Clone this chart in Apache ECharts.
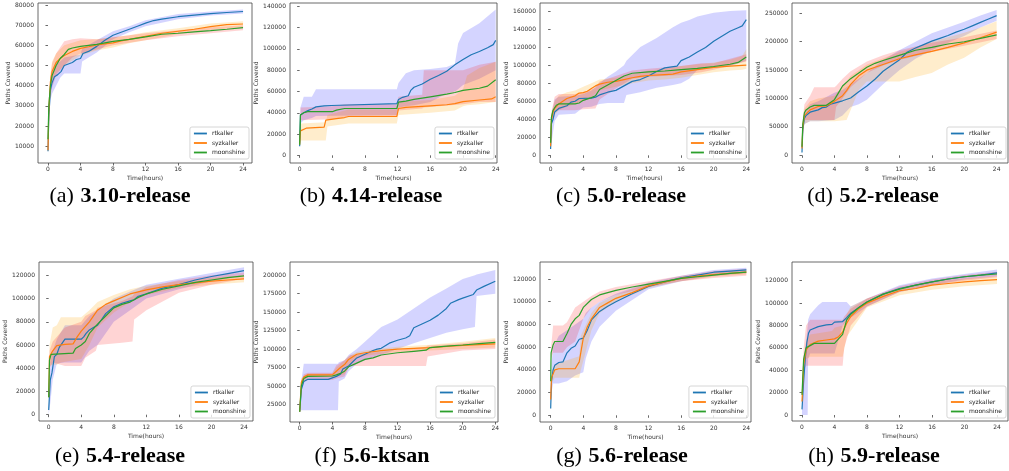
<!DOCTYPE html>
<html>
<head>
<meta charset="utf-8">
<script src="https://cdn.jsdelivr.net/npm/echarts@6/dist/echarts.min.js"></script>
<style>
  html, body { margin: 0; padding: 0; background: #fff; }
  #chart { width: 1009px; height: 471px; }
</style>
</head>
<body>
<div id="chart"></div>
<script>
// ---- data: lines are [hour, paths], bands are [hour, low, high] ----
var seriesNames = ['rtkaller', 'syzkaller', 'moonshine'];
var hourTicks = [0, 4, 8, 12, 16, 20, 24];

// (a) 3.10-release
var a_yTicks = [10000, 20000, 30000, 40000, 50000, 60000, 70000, 80000];
var a_rt = [[0,7500],[0.1,25000],[0.3,38000],[0.5,41500],[0.8,44500],[1.2,45500],[1.6,47000],[2,50000],[3,51500],[3.5,53000],[4,53500],[4.3,56000],[5,57000],[6,59500],[7,62500],[8,65000],[9,66500],[10,68000],[11,69500],[12,71000],[13,72300],[14,73000],[16,74200],[18,75000],[20,75700],[22,76300],[24,76800]];
var a_rtBand = [[0,6000,9000],[0.1,20000,30000],[0.3,33000,44000],[0.5,36000,47000],[1,40000,51000],[1.5,44000,52000],[2,46000,54000],[4,46000,55500],[4.2,52000,58500],[6,56500,62500],[8,63000,67000],[10,66500,69500],[12,69500,72500],[16,73000,75500],[20,74800,76800],[24,75800,77800]];
var a_syz = [[0,8000],[0.1,28000],[0.3,42000],[0.5,47000],[1,51500],[1.5,53500],[2,55000],[3,57000],[4,58500],[5,59300],[6,60200],[8,61200],[9,62200],[10,63000],[12,64500],[14,66000],[16,67000],[18,68000],[20,69300],[22,70300],[24,70600]];
var a_syzBand = [[0,7000,9500],[0.1,24000,32000],[0.3,38000,46000],[0.5,42000,52000],[1,46000,56000],[2,50000,60000],[4,55000,62500],[6,57500,63000],[8,59000,64000],[10,61000,65000],[12,62500,66500],[16,65500,68500],[20,67800,70800],[24,69000,72000]];
var a_moon = [[0,13500],[0.1,30000],[0.3,40000],[0.5,45000],[1,50000],[1.5,53500],[2,55500],[2.5,58000],[3,58700],[4,59500],[6,60500],[8,62000],[10,63000],[12,64200],[14,65500],[16,66000],[18,66700],[20,67300],[22,68000],[24,68800]];
var a_moonBand = [[0,12000,15000],[0.1,26000,34000],[0.3,35000,45000],[0.5,39000,51000],[1,45000,56000],[2,50000,62000],[3,54000,63000],[4,56000,63500],[6,58000,63000],[8,60000,64000],[12,62500,66000],[16,64500,67500],[20,66000,69000],[24,67500,70000]];

// (b) 4.14-release
var b_yTicks = [0, 20000, 40000, 60000, 80000, 100000, 120000, 140000];
var b_rt = [[0,8500],[0.1,38000],[0.5,40000],[1,42000],[1.5,43500],[2,45500],[3,46500],[3.9,46800],[4,48500],[11.9,48500],[12.1,52500],[12.6,54500],[13.3,56000],[13.6,61000],[14,64000],[15,67000],[16,71500],[17,75000],[18,79000],[19,85000],[20,90000],[21,94500],[22,97500],[23,101000],[23.7,104000],[24,108000]];
var b_rtBand = [[0,8000,9000],[0.1,30000,45000],[0.5,33000,55000],[1.5,35000,55000],[2,37000,62000],[11.9,38000,62000],[12.1,45000,68000],[13,46000,77000],[14,47000,80000],[16,50000,81000],[18,58000,83000],[19,60000,86000],[19.4,62000,105000],[20,66000,115000],[22,72000,124000],[24,80000,137000]];
var b_syz = [[0,10000],[0.1,23000],[0.8,25500],[3,26500],[3.2,33000],[4.5,34500],[5.5,35500],[6,36500],[11.9,36500],[12.1,44000],[13,45000],[15,46000],[16,46500],[18,47500],[19,48500],[20,50500],[22,52000],[23.5,53000],[24,55000]];
var b_syzBand = [[0,9000,11000],[0.1,14000,30000],[3.2,14000,31000],[3.4,27000,38000],[6,30000,43000],[11.9,30000,43000],[12.1,38000,50000],[16,40000,52000],[19,42000,56000],[20,46000,62000],[20.5,47000,75000],[22,48000,82000],[24,50000,88000]];
var b_moon = [[0,10000],[0.1,38000],[0.5,40000],[1,41000],[4,41000],[4.5,42500],[5.5,44000],[11.9,44000],[12.1,50000],[13,51000],[14,52500],[16,55000],[18,57500],[19,59000],[20,61000],[22,63000],[23,65000],[24,71000]];
var b_moonBand = [[0,9000,11000],[0.1,33000,45000],[4,34000,46000],[5.5,36000,48000],[11.9,36000,48000],[12.1,42000,55000],[15,44000,57000],[15.2,45000,80000],[20,48000,80000],[22,50000,85000],[24,50000,88000]];

// (c) 5.0-release
var c_yTicks = [0, 20000, 40000, 60000, 80000, 100000, 120000, 140000, 160000];
var c_rt = [[0,7000],[0.1,35000],[0.3,40000],[0.5,48000],[1,52000],[2,55000],[2.5,59000],[3,60000],[3.5,63000],[5,63500],[5.5,64500],[6,67000],[7,70000],[8,72000],[9,77000],[10,82000],[11,84000],[12,88000],[13,93000],[14,97000],[15.5,99000],[16,105000],[17,109000],[18,114500],[19,119500],[20,126500],[21,132000],[22,137500],[23,141500],[23.5,143500],[24,150500]];
var c_rtBand = [[0,6000,8000],[0.1,13000,45000],[0.5,38000,62000],[1,45000,65000],[3,46000,66000],[4,53000,68000],[5,54000,72000],[6,57000,80000],[7,58000,87000],[8,58000,93000],[9,58000,100000],[9.3,67000,105000],[11,70000,120000],[13,75000,130000],[15,78000,142000],[16,80000,147000],[17,85000,150000],[18,95000,154000],[20,98000,158000],[22,99000,160000],[24,105000,161000]];
var c_syz = [[0,10000],[0.1,40000],[0.3,48000],[0.5,52000],[1,57000],[1.5,60000],[2,63000],[3,66000],[3.5,69000],[4,69500],[4.5,71000],[5,74000],[5.5,77000],[6,79000],[7,81000],[8,82000],[9,84000],[10,86000],[11,87500],[12,88500],[14,89500],[15,90000],[16,92500],[18,95000],[20,97500],[22,99000],[24,100000]];
var c_syzBand = [[0,9000,11000],[0.1,34000,46000],[0.5,45000,60000],[1,50000,66000],[2,54000,70000],[3,57000,72000],[4,60000,76000],[5,65000,80000],[6,72000,84000],[8,76000,86000],[10,80000,90000],[12,83000,94000],[14,84000,96000],[16,86000,99000],[18,89000,101000],[20,92000,103000],[22,94000,106000],[23.5,95000,110000],[24,96000,118000]];
var c_moon = [[0,14000],[0.1,42000],[0.3,50000],[0.7,55500],[1,57000],[3,57000],[3.5,58000],[4,61000],[5,64000],[5.5,66000],[6,73000],[7,78000],[8,83000],[9,88000],[10,91000],[12,92500],[14,93500],[16,95000],[18,96500],[20,98500],[22,101000],[23,103000],[24,109000]];
var c_moonBand = [[0,13000,15000],[0.1,36000,48000],[0.5,48000,65000],[1,50000,68000],[3,50000,68000],[4,51000,70000],[5.5,52000,75000],[6,62000,82000],[8,74000,88000],[10,85000,94000],[12,87000,96000],[16,89000,99000],[18.5,92000,102000],[20,95000,102000],[24,104000,112000]];

// (d) 5.2-release
var d_yTicks = [0, 50000, 100000, 150000, 200000, 250000];
var d_rt = [[0,5000],[0.1,45000],[0.3,65000],[0.5,70000],[1,76000],[2,80000],[2.5,84000],[3,85000],[3.5,90000],[4,92000],[5,96000],[6,101000],[7,112000],[8,122000],[9,134000],[10,148000],[11,158000],[12,168000],[13,182000],[14,189000],[15,195000],[16,201000],[17,206000],[18,211000],[19,217000],[20,222000],[21,228000],[22,234000],[23,240000],[24,246000]];
var d_rtBand = [[0,4000,6000],[0.1,35000,55000],[0.3,55000,75000],[1,60000,90000],[2,60000,95000],[4,62000,110000],[5,70000,115000],[6,85000,125000],[7,90000,135000],[8,98000,145000],[10,125000,168000],[12,150000,185000],[14,170000,200000],[16,185000,215000],[18,198000,225000],[20,210000,235000],[22,225000,246000],[24,237000,256000]];
var d_syz = [[0,12000],[0.1,50000],[0.3,70000],[1,80000],[2,86000],[3,87000],[4,95000],[5,105000],[5.5,114000],[6,125000],[7,140000],[8,150000],[9,155000],[10,160000],[12,170000],[14,177000],[16,183000],[18,190000],[20,198000],[22,207000],[24,217000]];
var d_syzBand = [[0,11000,13000],[0.1,40000,60000],[0.3,55000,82000],[1,60000,95000],[2,60000,100000],[4,60000,105000],[5.5,62000,130000],[6,80000,140000],[7,115000,150000],[8,130000,160000],[12,130000,182000],[14,138000,190000],[16,145000,200000],[18,160000,208000],[20,172000,216000],[22,190000,225000],[24,205000,236000]];
var d_moon = [[0,15000],[0.1,55000],[0.3,75000],[0.5,80000],[1,85000],[1.5,88000],[3,88000],[3.5,93000],[4,98000],[4.5,110000],[5,122000],[6,135000],[7,145000],[8,155000],[9,162000],[10,167000],[12,176000],[14,185000],[16,190000],[18,196000],[20,200000],[22,206000],[24,212000]];
var d_moonBand = [[0,14000,16000],[0.1,45000,65000],[0.3,62000,90000],[1,62000,105000],[1.5,62000,120000],[4,62000,120000],[4.2,85000,122000],[5,100000,135000],[6,120000,148000],[8,145000,165000],[10,158000,176000],[12,168000,185000],[16,182000,198000],[20,193000,208000],[24,205000,220000]];

// (e) 5.4-release
var e_yTicks = [0, 20000, 40000, 60000, 80000, 100000, 120000];
var e_rt = [[0,4000],[0.2,30000],[0.4,36000],[0.7,50000],[1,52000],[1.3,58000],[2,65000],[4,65000],[4.3,67000],[4.6,70000],[5,73000],[5.5,75000],[6,77000],[6.5,82000],[7,87000],[7.5,90000],[8,93000],[9,96000],[10,98000],[10.5,99000],[11,102000],[12,104000],[14,109000],[16,112000],[18,116000],[20,119000],[22,121500],[24,124000]];
var e_rtBand = [[0,0,8000],[0.2,10000,45000],[0.5,30000,55000],[1,44000,65000],[2,45000,77000],[4,45000,77000],[5,55000,85000],[6,60000,90000],[8,80000,100000],[10,90000,106000],[12,100000,112000],[16,108000,117000],[20,115000,122000],[24,120000,127000]];
var e_syz = [[0,15000],[0.1,50000],[0.5,55000],[1,59500],[2,60500],[3,61000],[3.5,67000],[4,72000],[5,80000],[6,90000],[7,95000],[8,98000],[10,104000],[12,107500],[14,110000],[16,112000],[18,113500],[20,115000],[22,116000],[24,117000]];
var e_syzBand = [[0,14000,16000],[0.1,42000,60000],[0.5,43000,75000],[1,43000,77000],[1.5,45000,84000],[4,48000,84000],[5,60000,90000],[6,75000,97000],[8,88000,103000],[10,97000,108000],[12,103000,111000],[16,109000,115000],[20,112000,118000],[24,114000,120000]];
var e_moon = [[0,15000],[0.1,47000],[0.3,52000],[0.5,53000],[3,53000],[3.3,57000],[4,60000],[4.5,63000],[5,70000],[6,78000],[7,85000],[8,92000],[9,95000],[10,97000],[11,101000],[12,104000],[14,108000],[16,111000],[18,114000],[20,116000],[22,118000],[24,119500]];
var e_moonBand = [[0,14000,16000],[0.1,40000,55000],[0.5,45000,63000],[2,42000,75000],[4,42000,80000],[4.5,49000,85000],[5.8,55000,90000],[6,60000,92000],[9,62000,98000],[10.3,63000,102000],[10.5,82000,104000],[12,90000,110000],[16,105000,116000],[20,112000,120000],[24,117000,122500]];

// (f) 5.6-ktsan
var f_yTicks = [25000, 50000, 75000, 100000, 125000, 150000, 175000, 200000];
var f_rt = [[0,15000],[0.2,45000],[0.5,56000],[1,59000],[3.5,59000],[4,61000],[4.5,63000],[5,66000],[5.3,73000],[6,77000],[7,88000],[8,93000],[9,98000],[9.5,100000],[10,101000],[11,108000],[12,112000],[13,115000],[13.5,118000],[14,129000],[15,134000],[16,139000],[17,146000],[18,155000],[18.5,162000],[19.5,167000],[20,169000],[21.3,174000],[21.7,180000],[22.6,185000],[24,192000]];
var f_rtBand = [[0,14000,16000],[0.1,17000,50000],[0.5,17000,80000],[4.7,17000,80000],[4.8,56000,82000],[5.5,60000,85000],[6,70000,92000],[7,80000,100000],[8,85000,110000],[10,92000,130000],[12,100000,140000],[14,108000,155000],[16,115000,170000],[18,122000,182000],[20,127000,195000],[21.5,130000,200000],[21.7,172000,201000],[24,175000,207000]];
var f_syz = [[0,15000],[0.2,55000],[0.5,62000],[1,65000],[4,65000],[4.5,70000],[5,75000],[5.5,79000],[6,86000],[7,93000],[8,95000],[10,98000],[12,100000],[14,101000],[16,102000],[18,103500],[20,105000],[22,106000],[24,107000]];
var f_syzBand = [[0,14000,16000],[0.2,50000,60000],[0.5,58000,64000],[1,62000,67000],[4,62000,67000],[4.5,63000,75000],[5.5,66000,85000],[6,75000,90000],[7,88000,96000],[8,91000,98000],[12,96000,103000],[16,98000,106000],[20,100000,110000],[24,102000,115000]];
var f_moon = [[0,15000],[0.2,50000],[0.5,60000],[1,63000],[4,63500],[4.5,65000],[5,67000],[5.5,70000],[6,76000],[7,81000],[8,86000],[9,88000],[10,92000],[12,95000],[14,97000],[15.5,98500],[16,102000],[18,104000],[20,105500],[22,107500],[24,109000]];
var f_moonBand = [[0,14000,16000],[0.2,45000,55000],[0.5,55000,66000],[1,58000,68000],[4,58000,68000],[4.5,60000,78000],[5.5,63000,85000],[6,75000,90000],[6.2,77000,92000],[15.5,77000,103000],[15.7,90000,105000],[20,98000,108000],[24,100000,113000]];

// (g) 5.6-release
var g_yTicks = [0, 20000, 40000, 60000, 80000, 100000, 120000];
var g_rt = [[0,6000],[0.1,30000],[0.3,40000],[0.5,44000],[1,46500],[1.5,47000],[2,55000],[2.5,59000],[3,61000],[3.5,67000],[4,68000],[4.5,75000],[5,84000],[6,91500],[7,96000],[8,100000],[10,107000],[12,113500],[14,117500],[16,121000],[18,123500],[20,126000],[22,127000],[24,128000]];
var g_rtBand = [[0,5000,7000],[0.1,20000,45000],[0.3,28000,60000],[1,28000,70000],[2,30000,75000],[3,35000,80000],[4,38000,85000],[4.3,50000,90000],[5,65000,95000],[6,78000,100000],[8,92000,107000],[12,111000,117000],[16,118000,123000],[20,123000,128000],[24,125000,130000]];
var g_syz = [[0,14000],[0.1,33000],[0.5,40000],[1,41000],[3,41000],[3.5,47000],[4,68000],[4.5,78000],[5,85000],[6,95000],[7,99000],[8,103000],[10,108000],[12,114000],[14,117500],[16,120500],[18,122500],[20,124000],[22,125000],[24,126000]];
var g_syzBand = [[0,13000,15000],[0.1,28000,38000],[0.5,33000,45000],[3.5,33000,52000],[3.7,40000,70000],[4,48000,75000],[5,75000,90000],[6,90000,99000],[8,100000,106000],[12,112000,116000],[16,118000,122000],[20,122000,126000],[24,124000,128000]];
var g_moon = [[0,30000],[0.05,55000],[0.3,62000],[0.5,65000],[1.5,65000],[2,72000],[2.5,80000],[3,85000],[3.5,88000],[4,95000],[5,102000],[6,106000],[7,108000],[8,110000],[10,113000],[12,115500],[14,118000],[16,120500],[18,122000],[20,123500],[22,125000],[24,126000]];
var g_moonBand = [[0,29000,31000],[0.05,50000,60000],[0.3,55000,79000],[1.5,55000,79000],[2,60000,82000],[3,65000,95000],[4,85000,100000],[5,95000,105000],[6,100000,109000],[8,106000,113000],[12,113000,118000],[16,118000,123000],[20,121000,127000],[24,123000,129000]];

// (h) 5.9-release
var h_yTicks = [0, 20000, 40000, 60000, 80000, 100000, 120000];
var h_rt = [[0,5000],[0.2,30000],[0.4,50000],[0.6,65000],[0.8,73000],[1,76000],[2,79000],[3,80500],[3.7,81000],[4,83000],[5,83500],[5.5,87000],[6,91000],[7,96000],[8,101000],[10,108000],[12,113000],[14,116000],[16,119000],[18,121500],[20,123500],[22,125000],[24,127000]];
var h_rtBand = [[0,0,10000],[0.2,0,50000],[0.5,0,65000],[0.7,0,80000],[0.75,50000,85000],[1,55000,90000],[2,55000,98000],[2.5,55000,101000],[4,55000,101000],[5,80000,101000],[5.5,84000,101000],[6,87000,97000],[8,97000,104000],[12,110000,116000],[16,116000,122000],[20,121000,126000],[24,124000,130000]];
var h_syz = [[0,12000],[0.2,45000],[0.5,58000],[1,63000],[2,66000],[3,67000],[4,68000],[4.5,70000],[5,74000],[5.5,82000],[6,88000],[7,95000],[8,100000],[10,106000],[12,111000],[14,113000],[16,116000],[18,117500],[20,119000],[22,120000],[24,121000]];
var h_syzBand = [[0,11000,13000],[0.2,40000,52000],[0.5,50000,65000],[1,52000,72000],[3.7,52000,75000],[4,52000,78000],[5,52000,80000],[5.5,70000,90000],[6,75000,97000],[8,96000,104000],[12,107000,114000],[16,112000,119000],[20,115000,122000],[24,117000,124000]];
var h_moon = [[0,18000],[0.2,50000],[0.5,60000],[1,62000],[1.5,64000],[4,64000],[4.5,68000],[5,72000],[5.5,85000],[6,90000],[7,96000],[8,101000],[10,108000],[12,112500],[14,116000],[16,119000],[18,121500],[20,123500],[22,125000],[24,126000]];
var h_moonBand = [[0,17000,19000],[0.2,40000,60000],[0.5,44000,80000],[1,44000,85000],[5,44000,85000],[5.2,60000,88000],[6,80000,95000],[8,97000,104000],[12,110000,115000],[16,116000,121000],[20,120000,125000],[24,123000,128000]];

var captions = [
  ['(a)', '3.10-release'], ['(b)', '4.14-release'], ['(c)', '5.0-release'], ['(d)', '5.2-release'],
  ['(e)', '5.4-release'], ['(f)', '5.6-ktsan'], ['(g)', '5.6-release'], ['(h)', '5.9-release']
];
var panelData = [
  [a_yTicks, a_rt, a_syz, a_moon, a_rtBand, a_syzBand, a_moonBand],
  [b_yTicks, b_rt, b_syz, b_moon, b_rtBand, b_syzBand, b_moonBand],
  [c_yTicks, c_rt, c_syz, c_moon, c_rtBand, c_syzBand, c_moonBand],
  [d_yTicks, d_rt, d_syz, d_moon, d_rtBand, d_syzBand, d_moonBand],
  [e_yTicks, e_rt, e_syz, e_moon, e_rtBand, e_syzBand, e_moonBand],
  [f_yTicks, f_rt, f_syz, f_moon, f_rtBand, f_syzBand, f_moonBand],
  [g_yTicks, g_rt, g_syz, g_moon, g_rtBand, g_syzBand, g_moonBand],
  [h_yTicks, h_rt, h_syz, h_moon, h_rtBand, h_syzBand, h_moonBand]
];

// ---- layout (pixels / axis ranges) ----
var layout = [
  {left: 38,  top: 3,   width: 214, height: 160, x: [-1.23, 25.1],  y: [1700, 81000],    gap: 26, cap: [120, 196], leg: [760, 312]},
  {left: 290, top: 3,   width: 207, height: 160, x: [-1.18, 24.16], y: [-7200, 143100],  gap: 30, cap: [371, 196], leg: [515, 312]},
  {left: 540, top: 3,   width: 209, height: 160, x: [-1.3, 24.33],  y: [-8500, 168900],  gap: 30, cap: [621, 196], leg: [263, 312]},
  {left: 792, top: 3,   width: 216, height: 160, x: [-1.23, 25.4],  y: [-13500, 268200], gap: 30, cap: [873, 196], leg: [3, 312]},
  {left: 39,  top: 262, width: 214, height: 159, x: [-1.19, 25.1],  y: [-5450, 131500],  gap: 30, cap: [120, 456], leg: [759, 53]},
  {left: 290, top: 262, width: 208, height: 160, x: [-1.19, 24.33], y: [1170, 218000],   gap: 30, cap: [372, 456], leg: [514, 53]},
  {left: 540, top: 262, width: 211, height: 160, x: [-1.31, 24.57], y: [-5900, 135000],  gap: 30, cap: [622, 456], leg: [261, 53]},
  {left: 792, top: 262, width: 216, height: 159, x: [-1.23, 25.35], y: [-5360, 136700],  gap: 30, cap: [874, 456], leg: [3, 53]}
];

var lineColors = ['#1f77b4', '#ff7f0e', '#2ca02c'];
var bandColors = ['rgba(0,0,255,0.17)', 'rgba(255,165,0,0.2)', 'rgba(255,0,0,0.17)'];
var smallFont = {fontSize: 6, fontFamily: 'DejaVu Sans', color: '#333'};

function bandSeries(band, color, idx) {
  return {
    type: 'custom', xAxisIndex: idx, yAxisIndex: idx, z: 1, silent: true,
    data: band,
    encode: {x: 0, y: [1, 2]},
    renderItem: function (params, api) {
      if (params.dataIndex !== 0) return;
      var upper = band.map(function (r) { return api.coord([r[0], r[2]]); });
      var lower = band.map(function (r) { return api.coord([r[0], r[1]]); }).reverse();
      return {type: 'polygon', shape: {points: upper.concat(lower)}, style: {fill: color}};
    }
  };
}

var grids = [], xAxes = [], yAxes = [], series = [], legends = [], graphics = [];

panelData.forEach(function (p, i) {
  var L = layout[i];
  grids.push({left: L.left, top: L.top, width: L.width, height: L.height,
    show: true, borderColor: '#444', borderWidth: 0.8, backgroundColor: 'transparent'});
  xAxes.push({
    type: 'value', gridIndex: i, min: L.x[0], max: L.x[1],
    axisLine: {show: false}, splitLine: {show: false},
    axisTick: {show: true, customValues: hourTicks, length: 2.5, lineStyle: {color: '#444', width: 0.8}},
    axisLabel: Object.assign({customValues: hourTicks, margin: 3.5}, smallFont),
    name: 'Time(hours)', nameLocation: 'middle', nameGap: 12, nameTextStyle: smallFont
  });
  yAxes.push({
    type: 'value', gridIndex: i, min: L.y[0], max: L.y[1],
    axisLine: {show: false}, splitLine: {show: false},
    axisTick: {show: true, customValues: p[0], length: 2.5, lineStyle: {color: '#444', width: 0.8}},
    axisLabel: Object.assign({customValues: p[0], margin: 4, formatter: function (v) { return String(v); }}, smallFont),
    name: 'Paths Covered', nameLocation: 'middle', nameGap: L.gap, nameTextStyle: smallFont
  });
  for (var k = 0; k < 3; k++) {
    series.push(bandSeries(p[4 + k], bandColors[k], i));
  }
  for (var k2 = 0; k2 < 3; k2++) {
    series.push({
      name: seriesNames[k2], type: 'line', xAxisIndex: i, yAxisIndex: i, z: 3,
      data: p[1 + k2], showSymbol: false, symbol: 'none', clip: true,
      color: lineColors[k2], itemStyle: {color: lineColors[k2]},
      lineStyle: {color: lineColors[k2], width: 1.2}
    });
  }
  legends.push({
    data: seriesNames, orient: 'vertical', right: L.leg[0], bottom: L.leg[1],
    icon: 'rect', itemWidth: 13, itemHeight: 1.8, itemGap: 2.5,
    padding: [3, 4, 3, 4], backgroundColor: 'rgba(255,255,255,0.8)',
    borderColor: '#ccc', borderWidth: 0.8, borderRadius: 2, selectedMode: false,
    textStyle: {fontSize: 6, fontFamily: 'DejaVu Sans', color: '#222', lineHeight: 7}
  });
  graphics.push({
    type: 'text', x: L.cap[0], y: L.cap[1], silent: true,
    style: {
      text: '{t|' + captions[i][0] + '}  {n|' + captions[i][1] + '}',
      align: 'center', verticalAlign: 'middle', fill: '#000',
      rich: {
        t: {fontFamily: 'Liberation Serif', fontSize: 22, fontWeight: 'normal', fill: '#000'},
        n: {fontFamily: 'Liberation Serif', fontSize: 22, fontWeight: 'bold', fill: '#000'}
      }
    }
  });
});

var chart = echarts.init(document.getElementById('chart'), null, {renderer: 'canvas'});
chart.setOption({
  backgroundColor: '#fff',
  animation: false,
  grid: grids,
  xAxis: xAxes,
  yAxis: yAxes,
  legend: legends,
  series: series,
  graphic: graphics
});
</script>
</body>
</html>
